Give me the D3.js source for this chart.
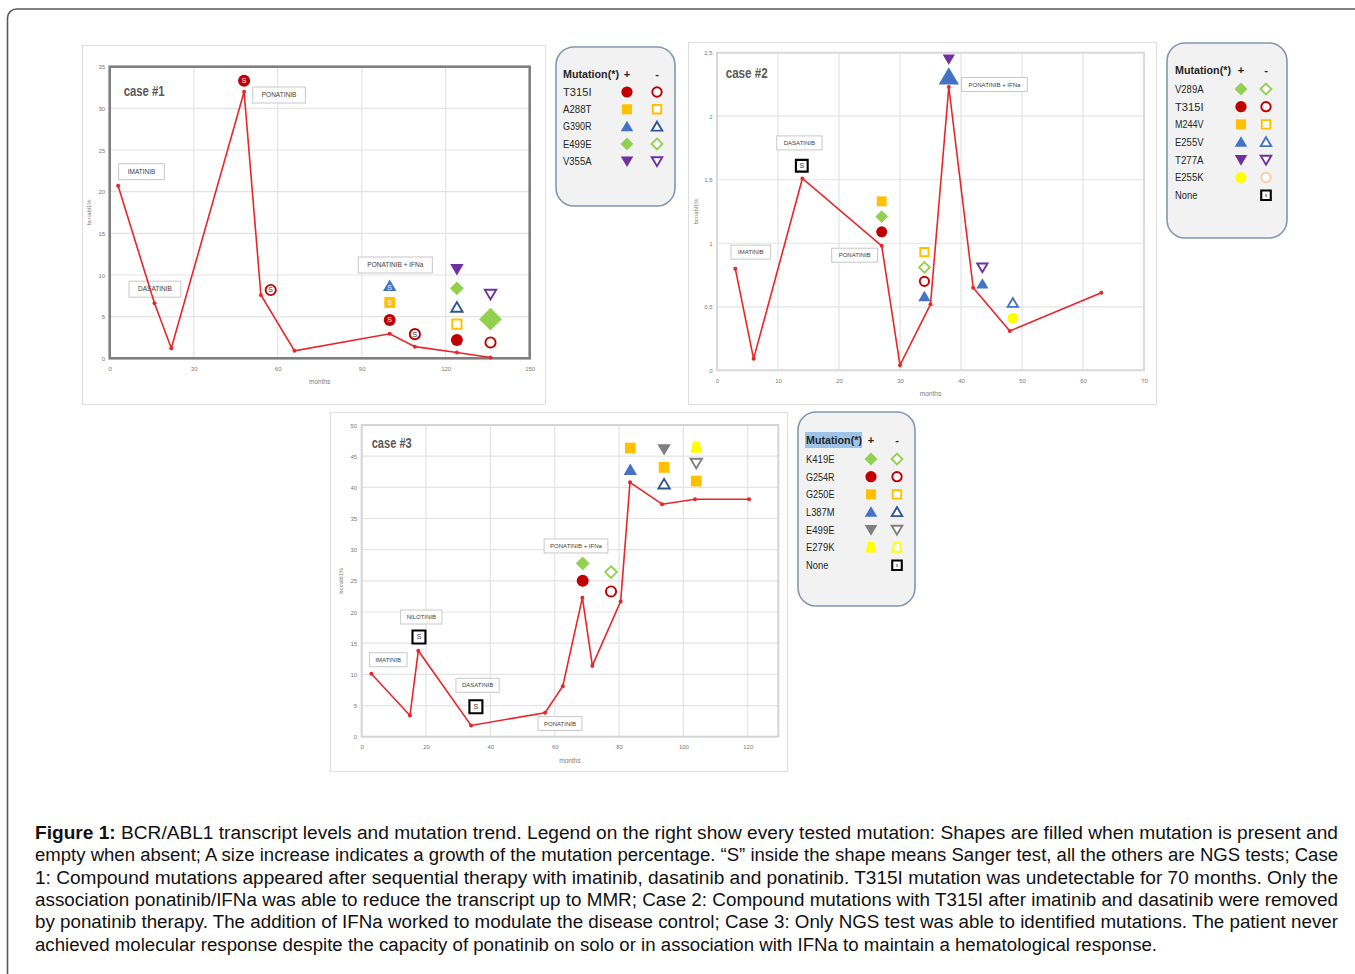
<!DOCTYPE html>
<html><head><meta charset="utf-8">
<script src="https://cdn.jsdelivr.net/npm/d3@7"></script>
<style>html,body{margin:0;padding:0;background:#fff;overflow:hidden;} svg{display:block;}</style>
</head><body><svg id="fig" width="1355" height="974"></svg>
<script>
// ================= DATA =================
// ---- Case #1 ----
const case1Months = [3, 16, 22, 48, 54, 66, 100, 109, 124, 136];
const case1Values = [20.7, 6.6, 1.2, 32.0, 7.6, 0.9, 2.95, 1.4, 0.7, 0.1];
const case1XTicks = [0, 30, 60, 90, 120, 150];
const case1YTicks = [0, 5, 10, 15, 20, 25, 30, 35];
const case1Mutations = ["T315I", "A288T", "G390R", "E499E", "V355A"];
const case1Markers = [
  {month: 48,   value: 33.3, mutation: "T315I", present: true,  sanger: true},
  {month: 57.5, value: 8.2,  mutation: "T315I", present: false, sanger: true},
  {month: 100,  value: 8.7,  mutation: "G390R", present: true,  sanger: true},
  {month: 100,  value: 6.7,  mutation: "A288T", present: true,  sanger: true},
  {month: 100,  value: 4.6,  mutation: "T315I", present: true,  sanger: true},
  {month: 109,  value: 2.9,  mutation: "T315I", present: false, sanger: true},
  {month: 124,  value: 10.7, mutation: "V355A", present: true},
  {month: 124,  value: 8.4,  mutation: "E499E", present: true},
  {month: 124,  value: 6.1,  mutation: "G390R", present: false},
  {month: 124,  value: 4.1,  mutation: "A288T", present: false},
  {month: 124,  value: 2.2,  mutation: "T315I", present: true},
  {month: 136,  value: 7.7,  mutation: "V355A", present: false},
  {month: 136,  value: 4.7,  mutation: "E499E", present: true, grow: true},
  {month: 136,  value: 1.9,  mutation: "T315I", present: false}
];
const case1Therapies = [
  {name: "IMATINIB", month: 3.2, value: 22.4},
  {name: "DASATINIB", month: 6.9, value: 8.3},
  {name: "PONATINIB", month: 51.1, value: 31.6},
  {name: "PONATINIB + IFNa", month: 88.8, value: 11.2}
];

// ---- Case #2 ----
const case2Months = [3, 6, 14, 27, 30, 35, 38, 42, 48, 63];
const case2Values = [0.80, 0.09, 1.51, 0.98, 0.04, 0.52, 2.23, 0.65, 0.31, 0.61];
const case2XTicks = [0, 10, 20, 30, 40, 50, 60, 70];
const case2YTicks = [0, 0.5, 1, 1.5, 2, 2.5];
const case2Mutations = ["V289A", "T315I", "M244V", "E255V", "T277A", "E255K", "None"];
const case2Markers = [
  {month: 13.9, value: 1.61, mutation: "None",  present: false, sanger: true},
  {month: 27,   value: 1.33, mutation: "M244V", present: true},
  {month: 27,   value: 1.21, mutation: "V289A", present: true},
  {month: 27,   value: 1.09, mutation: "T315I", present: true},
  {month: 34,   value: 0.93, mutation: "M244V", present: false},
  {month: 34,   value: 0.81, mutation: "V289A", present: false},
  {month: 34,   value: 0.70, mutation: "T315I", present: false},
  {month: 34,   value: 0.58, mutation: "E255V", present: true},
  {month: 38,   value: 2.45, mutation: "T277A", present: true},
  {month: 38,   value: 2.31, mutation: "E255V", present: true, grow: true},
  {month: 43.5, value: 0.81, mutation: "T277A", present: false},
  {month: 43.5, value: 0.68, mutation: "E255V", present: true},
  {month: 48.5, value: 0.53, mutation: "E255V", present: false},
  {month: 48.5, value: 0.41, mutation: "E255K", present: true}
];
const case2Therapies = [
  {name: "IMATINIB", month: 2.3, value: 0.93},
  {name: "DASATINIB", month: 9.8, value: 1.79},
  {name: "PONATINIB", month: 18.8, value: 0.906},
  {name: "PONATINIB + IFNa", month: 40.1, value: 2.25}
];

// ---- Case #3 ----
const case3Months = [3, 15, 17.6, 34, 57, 62.5, 68.6, 71.7, 80.5, 83.4, 93.4, 103.6, 120.4];
const case3Values = [10.1, 3.4, 13.8, 1.8, 3.85, 8.1, 22.3, 11.4, 21.7, 40.8, 37.3, 38.1, 38.1];
const case3XTicks = [0, 20, 40, 60, 80, 100, 120];
const case3YTicks = [0, 5, 10, 15, 20, 25, 30, 35, 40, 45, 50];
const case3Mutations = ["K419E", "G254R", "G250E", "L387M", "E499E", "E279K", "None"];
const case3Markers = [
  {month: 17.8, value: 16.0, mutation: "None",  present: false, sanger: true},
  {month: 35.5, value: 4.8,  mutation: "None",  present: false, sanger: true},
  {month: 68.7, value: 27.8, mutation: "K419E", present: true},
  {month: 68.7, value: 25.0, mutation: "G254R", present: true},
  {month: 77.5, value: 26.4, mutation: "K419E", present: false},
  {month: 77.5, value: 23.3, mutation: "G254R", present: false},
  {month: 83.5, value: 46.3, mutation: "G250E", present: true},
  {month: 83.5, value: 42.8, mutation: "L387M", present: true},
  {month: 94,   value: 46.1, mutation: "E499E", present: true},
  {month: 94,   value: 43.2, mutation: "G250E", present: true},
  {month: 94,   value: 40.5, mutation: "L387M", present: false},
  {month: 104,  value: 46.4, mutation: "E279K", present: true},
  {month: 104,  value: 43.9, mutation: "E499E", present: false},
  {month: 104,  value: 41.0, mutation: "G250E", present: true}
];
const case3Therapies = [
  {name: "IMATINIB", month: 2.4, value: 12.35},
  {name: "NILOTINIB", month: 12.1, value: 19.2},
  {name: "DASATINIB", month: 29.3, value: 8.25},
  {name: "PONATINIB", month: 54.8, value: 2.1},
  {name: "PONATINIB + IFNa", month: 56.7, value: 30.6}
];

// ---- Caption ----
const captionBold = "Figure 1:";
const captionLines = [
  " BCR/ABL1 transcript levels and mutation trend. Legend on the right show every tested mutation: Shapes are filled when mutation is present and",
  "empty when absent; A size increase indicates a growth of the mutation percentage. \u201CS\u201D inside the shape means Sanger test, all the others are NGS tests; Case",
  "1: Compound mutations appeared after sequential therapy with imatinib, dasatinib and ponatinib. T315I mutation was undetectable for 70 months. Only the",
  "association ponatinib/IFNa was able to reduce the transcript up to MMR; Case 2: Compound mutations with T315I after imatinib and dasatinib were removed",
  "by ponatinib therapy. The addition of IFNa worked to modulate the disease control; Case 3: Only NGS test was able to identified mutations. The patient never",
  "achieved molecular response despite the capacity of ponatinib on solo or in association with IFNa to maintain a hematological response."
];

// ================= STYLES =================
const RED = "#c00000", ORANGE = "#ffc000", BLUE = "#4472c4", DBLUE = "#2f5597",
      GREEN = "#92d050", PURPLE = "#7030a0", GRAY = "#7f7f7f", YELLOW = "#ffff00";
const styles1 = {
  T315I: {shape: "circle", fill: RED, open: RED},
  A288T: {shape: "square", fill: ORANGE, open: ORANGE},
  G390R: {shape: "triangle", fill: BLUE, open: DBLUE},
  E499E: {shape: "diamond", fill: GREEN, open: GREEN},
  V355A: {shape: "down", fill: PURPLE, open: PURPLE}
};
const styles2 = {
  V289A: {shape: "diamond", fill: GREEN, open: GREEN},
  T315I: {shape: "circle", fill: RED, open: RED},
  M244V: {shape: "square", fill: ORANGE, open: ORANGE},
  E255V: {shape: "triangle", fill: BLUE, open: BLUE},
  T277A: {shape: "down", fill: PURPLE, open: PURPLE},
  E255K: {shape: "circle", fill: YELLOW, open: "#f8cfa0"},
  None:  {shape: "square", fill: "#000", open: "#000"}
};
const styles3 = {
  K419E: {shape: "diamond", fill: GREEN, open: GREEN},
  G254R: {shape: "circle", fill: RED, open: RED},
  G250E: {shape: "square", fill: ORANGE, open: ORANGE},
  L387M: {shape: "triangle", fill: BLUE, open: DBLUE},
  E499E: {shape: "down", fill: GRAY, open: GRAY},
  E279K: {shape: "trap", fill: YELLOW, open: YELLOW},
  None:  {shape: "square", fill: "#000", open: "#000"}
};

const FONT = "'Liberation Sans', Arial, sans-serif";
const svg = d3.select("#fig");

// outer figure frame
svg.append("rect").attr("x", 7.5).attr("y", 9).attr("width", 1370).attr("height", 990)
  .attr("rx", 9).attr("fill", "#fff").attr("stroke", "#5a5a5a").attr("stroke-width", 1.6);

function shapePath(shape, s) {
  const p = d3.path();
  switch (shape) {
    case "circle": p.arc(0, 0, s, 0, 2 * Math.PI); break;
    case "square": p.rect(-s * 0.9, -s * 0.9, s * 1.8, s * 1.8); break;
    case "triangle": p.moveTo(0, -s * 1.05); p.lineTo(s * 1.12, s * 0.85); p.lineTo(-s * 1.12, s * 0.85); p.closePath(); break;
    case "down": p.moveTo(-s * 1.12, -s * 0.85); p.lineTo(s * 1.12, -s * 0.85); p.lineTo(0, s * 1.05); p.closePath(); break;
    case "diamond": p.moveTo(0, -s * 1.15); p.lineTo(s * 1.15, 0); p.lineTo(0, s * 1.15); p.lineTo(-s * 1.15, 0); p.closePath(); break;
    case "trap": p.moveTo(-s * 0.55, -s); p.lineTo(s * 0.55, -s); p.lineTo(s * 0.95, s * 0.9); p.lineTo(-s * 0.95, s * 0.9); p.closePath(); break;
  }
  return p.toString();
}

function drawMarker(g, st, present, s, sanger, sText, small) {
  const isNone = st.fill === "#000";
  if (present) {
    g.append("path").attr("d", shapePath(st.shape, s)).attr("fill", st.fill);
  } else {
    g.append("path").attr("d", shapePath(st.shape, s - 0.9)).attr("fill", "#fff")
      .attr("stroke", st.open).attr("stroke-width", isNone ? 2.1 : 1.9);
  }
  if (sanger) {
    const dy = st.shape === "triangle" ? s * 0.3 : (st.shape === "down" ? -s * 0.25 : 0);
    g.append("text").attr("x", 0).attr("y", dy).attr("dy", "0.35em")
      .attr("text-anchor", "middle").attr("font-family", FONT)
      .attr("font-size", sText).attr("fill", present ? "#fff" : "#333")
      .text(small ? "s" : "S");
  }
}

function drawPanel(cfg) {
  const g = svg.append("g");
  const [ox, oy, ow, oh] = cfg.outer;
  g.append("rect").attr("x", ox + 0.5).attr("y", oy + 0.5).attr("width", ow).attr("height", oh)
    .attr("fill", "#fff").attr("stroke", "#dedede").attr("stroke-width", 1);
  const x = d3.scaleLinear().domain(cfg.xDomain).range([cfg.plot.left, cfg.plot.right]);
  const y = d3.scaleLinear().domain(cfg.yDomain).range([cfg.plot.bottom, cfg.plot.top]);

  // gridlines
  g.append("g").selectAll("line").data(cfg.yTicks).join("line")
    .attr("x1", cfg.plot.left).attr("x2", cfg.plot.right)
    .attr("y1", d => y(d)).attr("y2", d => y(d)).attr("stroke", "#e3e3e3").attr("stroke-width", 1.2);
  g.append("g").selectAll("line").data(cfg.xTicks).join("line")
    .attr("y1", cfg.plot.top).attr("y2", cfg.plot.bottom)
    .attr("x1", d => x(d)).attr("x2", d => x(d)).attr("stroke", "#e3e3e3").attr("stroke-width", 1.2);
  // frame
  g.append("rect").attr("x", cfg.plot.left).attr("y", cfg.plot.top)
    .attr("width", cfg.plot.right - cfg.plot.left).attr("height", cfg.plot.bottom - cfg.plot.top)
    .attr("fill", "none").attr("stroke", cfg.frameColor).attr("stroke-width", cfg.frameWidth);

  // axes (tick labels only, via d3 axes)
  const xAxis = d3.axisBottom(x).tickValues(cfg.xTicks).tickSize(0).tickPadding(0).tickFormat(d3.format("d"));
  const yAxis = d3.axisLeft(y).tickValues(cfg.yTicks).tickSize(0).tickPadding(0).tickFormat(cfg.yFmt);
  const gx = g.append("g").attr("transform", `translate(0,${cfg.plot.bottom + 8})`).call(xAxis);
  const gy = g.append("g").attr("transform", `translate(${cfg.plot.left - 4.5},0)`).call(yAxis);
  [gx, gy].forEach(a => {
    a.select(".domain").remove();
    a.selectAll("text").attr("font-family", FONT).attr("font-size", 6).attr("fill", "#7a7a7a");
  });
  gy.selectAll("text").attr("dy", "0.35em");

  // axis titles
  g.append("text").attr("x", (cfg.plot.left + cfg.plot.right) / 2).attr("y", cfg.plot.bottom + 26)
    .attr("text-anchor", "middle").attr("font-family", FONT).attr("font-size", 6.5).attr("fill", "#7a7a7a").text("months");
  g.append("text").attr("transform", `translate(${cfg.plot.left - 19},${(cfg.plot.top + cfg.plot.bottom) / 2}) rotate(-90)`)
    .attr("text-anchor", "middle").attr("font-family", FONT).attr("font-size", 5.8).attr("fill", "#7a7a7a").text("bcr/abl1%");

  // case label
  g.append("text").attr("x", cfg.caseX).attr("y", cfg.caseY).attr("font-family", FONT)
    .attr("font-size", 15).attr("font-weight", "bold").attr("fill", "#5a5a5a")
    .attr("textLength", cfg.caseW).attr("lengthAdjust", "spacingAndGlyphs").text(cfg.caseLabel);

  // therapy annotation boxes
  cfg.therapies.forEach(t => {
    const tg = g.append("g");
    const txt = tg.append("text").attr("font-family", FONT).attr("font-size", cfg.labelFont)
      .attr("fill", "#404040").text(t.name);
    const w = txt.node().getComputedTextLength();
    const bx = x(t.month), by = y(t.value);
    tg.insert("rect", "text").attr("x", bx).attr("y", by - cfg.labelH / 2)
      .attr("width", w + 2 * cfg.labelPad).attr("height", cfg.labelH)
      .attr("fill", "#fff").attr("stroke", "#c8c8c8").attr("stroke-width", 1);
    txt.attr("x", bx + cfg.labelPad).attr("y", by).attr("dy", "0.35em");
  });

  // series line
  const pts = cfg.months.map((m, i) => [m, cfg.values[i]]);
  g.append("path").datum(pts)
    .attr("d", d3.line().x(d => x(d[0])).y(d => y(d[1])))
    .attr("fill", "none").attr("stroke", "#e8262a").attr("stroke-width", 1.6);
  g.append("g").selectAll("circle").data(pts).join("circle")
    .attr("cx", d => x(d[0])).attr("cy", d => y(d[1])).attr("r", 2).attr("fill", "#e8262a");

  // mutation markers
  cfg.markers.forEach(mk => {
    const st = cfg.styles[mk.mutation];
    const mg = g.append("g").attr("transform", `translate(${x(mk.month)},${y(mk.value)})`);
    let s = mk.grow ? cfg.mSize * 1.65 : cfg.mSize;
    if (mk.mutation === "None") s = cfg.mSize * 1.35;
    drawMarker(mg, st, mk.present, s, mk.sanger, cfg.sFont, false);
  });
}

function drawLegend(cfg) {
  const g = svg.append("g");
  const [bx, by, bw, bh] = cfg.box;
  g.append("rect").attr("x", bx).attr("y", by).attr("width", bw).attr("height", bh)
    .attr("rx", 18).attr("fill", "#f2f2f2").attr("stroke", "#8496b0").attr("stroke-width", 1.6);
  if (cfg.highlight) {
    g.append("rect").attr("x", cfg.textX - 1).attr("y", cfg.titleY - 8).attr("width", 57).attr("height", 16)
      .attr("fill", "#9dc3e6");
  }
  const tAttr = sel => sel.attr("font-family", FONT).attr("font-size", 11).attr("fill", "#262626").attr("dy", "0.35em");
  g.append("text").attr("x", cfg.textX).attr("y", cfg.titleY).call(tAttr)
    .attr("textLength", 56).attr("lengthAdjust", "spacingAndGlyphs").attr("font-weight", "bold").text("Mutation(*)");
  g.append("text").attr("x", cfg.plusX).attr("y", cfg.titleY).attr("text-anchor", "middle").call(tAttr).attr("font-weight", "bold").text("+");
  g.append("text").attr("x", cfg.minusX).attr("y", cfg.titleY).attr("text-anchor", "middle").call(tAttr).attr("font-weight", "bold").text("-");
  cfg.mutations.forEach((m, i) => {
    const ry = cfg.rowY0 + i * cfg.rowStep;
    g.append("text").attr("x", cfg.textX).attr("y", ry).call(tAttr)
      .attr("textLength", m.length * 6.1 - 2).attr("lengthAdjust", "spacingAndGlyphs").text(m);
    const st = cfg.styles[m];
    if (m === "None") {
      const mg = g.append("g").attr("transform", `translate(${cfg.minusX},${ry})`);
      drawMarker(mg, st, false, 6.2, true, 5, true);
    } else {
      const mg1 = g.append("g").attr("transform", `translate(${cfg.plusX},${ry})`);
      drawMarker(mg1, st, true, 5.6, false, 0, false);
      const mg2 = g.append("g").attr("transform", `translate(${cfg.minusX},${ry})`);
      drawMarker(mg2, st, false, 5.6, false, 0, false);
    }
  });
}

// ================= PANELS =================
drawPanel({
  outer: [82, 45, 463, 359],
  plot: {left: 109.7, right: 529.7, top: 66.7, bottom: 358.3},
  xDomain: [0, 150], yDomain: [0, 35], xTicks: case1XTicks, yTicks: case1YTicks,
  yFmt: d3.format("d"), frameColor: "#7f7f7f", frameWidth: 2.6,
  caseLabel: "case #1", caseX: 123.7, caseY: 96, caseW: 41,
  months: case1Months, values: case1Values, markers: case1Markers, therapies: case1Therapies,
  styles: styles1, mSize: 6, sFont: 7, labelFont: 6.5, labelPad: 9, labelH: 16
});
drawPanel({
  outer: [688, 42, 468, 362],
  plot: {left: 717, right: 1144, top: 52.7, bottom: 370.3},
  xDomain: [0, 70], yDomain: [0, 2.5], xTicks: case2XTicks, yTicks: case2YTicks,
  yFmt: d => String(d).replace(".", ","), frameColor: "#d9d9d9", frameWidth: 2,
  caseLabel: "case #2", caseX: 725.7, caseY: 78, caseW: 42,
  months: case2Months, values: case2Values, markers: case2Markers, therapies: case2Therapies,
  styles: styles2, mSize: 5.5, sFont: 7, labelFont: 6, labelPad: 7, labelH: 14
});
drawPanel({
  outer: [330, 412, 457, 359],
  plot: {left: 361.7, right: 778.3, top: 425, bottom: 736.7},
  xDomain: [0, 129.5], yDomain: [0, 50], xTicks: case3XTicks, yTicks: case3YTicks,
  yFmt: d3.format("d"), frameColor: "#d4d4d4", frameWidth: 2,
  caseLabel: "case #3", caseX: 371.7, caseY: 448, caseW: 40,
  months: case3Months, values: case3Values, markers: case3Markers, therapies: case3Therapies,
  styles: styles3, mSize: 6, sFont: 7, labelFont: 6, labelPad: 6, labelH: 14
});

// ================= LEGENDS =================
drawLegend({box: [556, 47, 119, 159], titleY: 74, rowY0: 92, rowStep: 17.3,
  textX: 563, plusX: 627, minusX: 657, mutations: case1Mutations, styles: styles1});
drawLegend({box: [1167, 43, 120, 195], titleY: 70, rowY0: 89, rowStep: 17.7,
  textX: 1175, plusX: 1241, minusX: 1266, mutations: case2Mutations, styles: styles2});
drawLegend({box: [798, 412, 117, 194], titleY: 440, rowY0: 459, rowStep: 17.7,
  textX: 806, plusX: 871, minusX: 897, mutations: case3Mutations, styles: styles3, highlight: true});

// ================= CAPTION =================
const capG = svg.append("g");
const capY0 = 839, capStep = 22.3;
captionLines.forEach((line, i) => {
  const t = capG.append("text").attr("x", 35).attr("y", capY0 + i * capStep)
    .attr("font-family", FONT).attr("font-size", 18).attr("fill", "#111");
  if (i === 0) {
    t.append("tspan").attr("font-weight", "bold").text(captionBold);
    t.append("tspan").text(line);
  } else {
    t.text(line);
  }
  const target = i === captionLines.length - 1 ? 1122 : 1303;
  t.attr("textLength", target).attr("lengthAdjust", "spacingAndGlyphs");
});
</script>
</body></html>
